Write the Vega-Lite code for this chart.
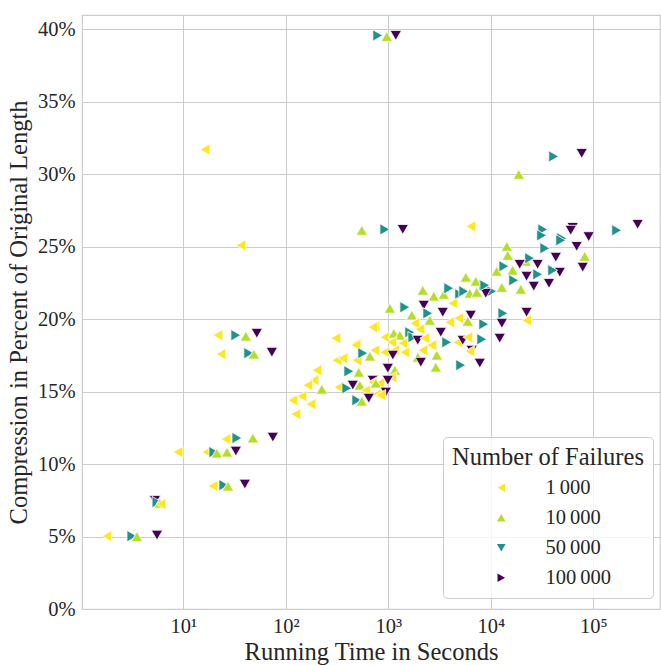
{
  "$schema": "https://vega.github.io/schema/vega-lite/v6.json",
  "width": 578,
  "height": 594,
  "autosize": {"type": "none"},
  "padding": {"left": 82, "top": 15, "right": 1, "bottom": 56},
  "background": "white",
  "config": {
    "font": "Liberation Serif",
    "view": {"stroke": "#cccccc", "strokeWidth": 1.2},
    "axis": {
      "labelFont": "Liberation Serif",
      "titleFont": "Liberation Serif",
      "labelFontSize": 20.5,
      "titleFontSize": 24.5,
      "titleFontWeight": "normal",
      "labelColor": "#262626",
      "titleColor": "#262626",
      "ticks": false,
      "domain": false,
      "gridColor": "#cccccc",
      "gridWidth": 1,
      "labelPadding": 7
    }
  },
  "data": {
    "values": [
      {"seconds": 1.8, "compression": 5.03, "failures": "1\u2009000"},
      {"seconds": 3.16, "compression": 5.03, "failures": "50\u2009000"},
      {"seconds": 3.54, "compression": 5.0, "failures": "10\u2009000"},
      {"seconds": 5.55, "compression": 5.1, "failures": "100\u2009000"},
      {"seconds": 5.3, "compression": 7.5, "failures": "100\u2009000"},
      {"seconds": 5.55, "compression": 7.38, "failures": "50\u2009000"},
      {"seconds": 5.9, "compression": 7.3, "failures": "10\u2009000"},
      {"seconds": 6.07, "compression": 7.24, "failures": "1\u2009000"},
      {"seconds": 19.5, "compression": 8.48, "failures": "1\u2009000"},
      {"seconds": 24.9, "compression": 8.55, "failures": "50\u2009000"},
      {"seconds": 27.3, "compression": 8.48, "failures": "10\u2009000"},
      {"seconds": 39.9, "compression": 8.62, "failures": "100\u2009000"},
      {"seconds": 8.88, "compression": 10.83, "failures": "1\u2009000"},
      {"seconds": 17.0, "compression": 10.83, "failures": "1\u2009000"},
      {"seconds": 19.9, "compression": 10.83, "failures": "50\u2009000"},
      {"seconds": 21.3, "compression": 10.76, "failures": "10\u2009000"},
      {"seconds": 26.7, "compression": 10.83, "failures": "10\u2009000"},
      {"seconds": 32.6, "compression": 10.9, "failures": "100\u2009000"},
      {"seconds": 26.1, "compression": 11.72, "failures": "1\u2009000"},
      {"seconds": 33.4, "compression": 11.8, "failures": "50\u2009000"},
      {"seconds": 47.8, "compression": 11.8, "failures": "10\u2009000"},
      {"seconds": 74.8, "compression": 11.86, "failures": "100\u2009000"},
      {"seconds": 23.3, "compression": 17.59, "failures": "1\u2009000"},
      {"seconds": 43.6, "compression": 17.66, "failures": "50\u2009000"},
      {"seconds": 48.9, "compression": 17.59, "failures": "10\u2009000"},
      {"seconds": 73.2, "compression": 17.72, "failures": "100\u2009000"},
      {"seconds": 21.8, "compression": 18.9, "failures": "1\u2009000"},
      {"seconds": 32.6, "compression": 18.9, "failures": "50\u2009000"},
      {"seconds": 40.8, "compression": 18.83, "failures": "10\u2009000"},
      {"seconds": 52.2, "compression": 19.03, "failures": "100\u2009000"},
      {"seconds": 16.3, "compression": 31.72, "failures": "1\u2009000"},
      {"seconds": 36.5, "compression": 25.1, "failures": "1\u2009000"},
      {"seconds": 789, "compression": 39.59, "failures": "50\u2009000"},
      {"seconds": 966, "compression": 39.52, "failures": "10\u2009000"},
      {"seconds": 1183, "compression": 39.59, "failures": "100\u2009000"},
      {"seconds": 552, "compression": 26.14, "failures": "10\u2009000"},
      {"seconds": 925, "compression": 26.2, "failures": "50\u2009000"},
      {"seconds": 1384, "compression": 26.2, "failures": "100\u2009000"},
      {"seconds": 6368, "compression": 26.41, "failures": "1\u2009000"},
      {"seconds": 18700, "compression": 30.0, "failures": "10\u2009000"},
      {"seconds": 41000, "compression": 31.24, "failures": "50\u2009000"},
      {"seconds": 76900, "compression": 31.45, "failures": "100\u2009000"},
      {"seconds": 62800, "compression": 26.34, "failures": "100\u2009000"},
      {"seconds": 60100, "compression": 26.14, "failures": "100\u2009000"},
      {"seconds": 168700, "compression": 26.14, "failures": "50\u2009000"},
      {"seconds": 270000, "compression": 26.55, "failures": "100\u2009000"},
      {"seconds": 89900, "compression": 25.7, "failures": "100\u2009000"},
      {"seconds": 68700, "compression": 25.03, "failures": "100\u2009000"},
      {"seconds": 82200, "compression": 24.34, "failures": "10\u2009000"},
      {"seconds": 78700, "compression": 23.59, "failures": "100\u2009000"},
      {"seconds": 49100, "compression": 25.59, "failures": "50\u2009000"},
      {"seconds": 47000, "compression": 23.24, "failures": "100\u2009000"},
      {"seconds": 32100, "compression": 26.2, "failures": "50\u2009000"},
      {"seconds": 31300, "compression": 25.79, "failures": "50\u2009000"},
      {"seconds": 48000, "compression": 25.45, "failures": "50\u2009000"},
      {"seconds": 33600, "compression": 24.9, "failures": "50\u2009000"},
      {"seconds": 14300, "compression": 25.03, "failures": "10\u2009000"},
      {"seconds": 14600, "compression": 24.41, "failures": "10\u2009000"},
      {"seconds": 43000, "compression": 24.28, "failures": "100\u2009000"},
      {"seconds": 40100, "compression": 23.38, "failures": "50\u2009000"},
      {"seconds": 11400, "compression": 23.31, "failures": "10\u2009000"},
      {"seconds": 16300, "compression": 23.38, "failures": "10\u2009000"},
      {"seconds": 13400, "compression": 23.66, "failures": "50\u2009000"},
      {"seconds": 21800, "compression": 24.0, "failures": "10\u2009000"},
      {"seconds": 23900, "compression": 24.21, "failures": "50\u2009000"},
      {"seconds": 19100, "compression": 23.79, "failures": "100\u2009000"},
      {"seconds": 22300, "compression": 22.97, "failures": "100\u2009000"},
      {"seconds": 28600, "compression": 23.79, "failures": "100\u2009000"},
      {"seconds": 28600, "compression": 23.1, "failures": "50\u2009000"},
      {"seconds": 16700, "compression": 22.69, "failures": "50\u2009000"},
      {"seconds": 26200, "compression": 22.28, "failures": "100\u2009000"},
      {"seconds": 19600, "compression": 22.07, "failures": "10\u2009000"},
      {"seconds": 12800, "compression": 22.2, "failures": "10\u2009000"},
      {"seconds": 8530, "compression": 22.34, "failures": "50\u2009000"},
      {"seconds": 10200, "compression": 21.93, "failures": "50\u2009000"},
      {"seconds": 8920, "compression": 21.79, "failures": "100\u2009000"},
      {"seconds": 36900, "compression": 22.48, "failures": "100\u2009000"},
      {"seconds": 13100, "compression": 20.41, "failures": "50\u2009000"},
      {"seconds": 22300, "compression": 20.48, "failures": "100\u2009000"},
      {"seconds": 22300, "compression": 19.93, "failures": "1\u2009000"},
      {"seconds": 8530, "compression": 19.66, "failures": "50\u2009000"},
      {"seconds": 12800, "compression": 19.72, "failures": "100\u2009000"},
      {"seconds": 8160, "compression": 18.62, "failures": "50\u2009000"},
      {"seconds": 12200, "compression": 18.69, "failures": "100\u2009000"},
      {"seconds": 6510, "compression": 17.86, "failures": "100\u2009000"},
      {"seconds": 7800, "compression": 16.97, "failures": "100\u2009000"},
      {"seconds": 2168, "compression": 22.0, "failures": "10\u2009000"},
      {"seconds": 2775, "compression": 21.59, "failures": "10\u2009000"},
      {"seconds": 3475, "compression": 21.72, "failures": "10\u2009000"},
      {"seconds": 3885, "compression": 22.14, "failures": "50\u2009000"},
      {"seconds": 4972, "compression": 21.72, "failures": "50\u2009000"},
      {"seconds": 5690, "compression": 22.9, "failures": "10\u2009000"},
      {"seconds": 7125, "compression": 22.62, "failures": "10\u2009000"},
      {"seconds": 5442, "compression": 21.93, "failures": "50\u2009000"},
      {"seconds": 6225, "compression": 21.79, "failures": "10\u2009000"},
      {"seconds": 7290, "compression": 21.86, "failures": "10\u2009000"},
      {"seconds": 4249, "compression": 21.1, "failures": "1\u2009000"},
      {"seconds": 1035, "compression": 20.76, "failures": "10\u2009000"},
      {"seconds": 1449, "compression": 20.83, "failures": "50\u2009000"},
      {"seconds": 2218, "compression": 20.97, "failures": "100\u2009000"},
      {"seconds": 1694, "compression": 20.28, "failures": "10\u2009000"},
      {"seconds": 2427, "compression": 20.41, "failures": "50\u2009000"},
      {"seconds": 3397, "compression": 20.48, "failures": "100\u2009000"},
      {"seconds": 6368, "compression": 20.28, "failures": "100\u2009000"},
      {"seconds": 5952, "compression": 19.86, "failures": "10\u2009000"},
      {"seconds": 1812, "compression": 19.72, "failures": "1\u2009000"},
      {"seconds": 2028, "compression": 19.31, "failures": "1\u2009000"},
      {"seconds": 2538, "compression": 19.93, "failures": "10\u2009000"},
      {"seconds": 3972, "compression": 19.79, "failures": "1\u2009000"},
      {"seconds": 4861, "compression": 20.07, "failures": "1\u2009000"},
      {"seconds": 738, "compression": 19.52, "failures": "1\u2009000"},
      {"seconds": 925, "compression": 18.76, "failures": "1\u2009000"},
      {"seconds": 1132, "compression": 19.03, "failures": "10\u2009000"},
      {"seconds": 1295, "compression": 18.9, "failures": "10\u2009000"},
      {"seconds": 1619, "compression": 19.1, "failures": "50\u2009000"},
      {"seconds": 1733, "compression": 18.76, "failures": "50\u2009000"},
      {"seconds": 1082, "compression": 18.41, "failures": "1\u2009000"},
      {"seconds": 1385, "compression": 18.34, "failures": "1\u2009000"},
      {"seconds": 1938, "compression": 18.55, "failures": "100\u2009000"},
      {"seconds": 2268, "compression": 18.69, "failures": "1\u2009000"},
      {"seconds": 2655, "compression": 18.21, "failures": "1\u2009000"},
      {"seconds": 3249, "compression": 19.1, "failures": "100\u2009000"},
      {"seconds": 3716, "compression": 18.41, "failures": "50\u2009000"},
      {"seconds": 4753, "compression": 18.41, "failures": "1\u2009000"},
      {"seconds": 5320, "compression": 18.55, "failures": "100\u2009000"},
      {"seconds": 5952, "compression": 18.76, "failures": "1\u2009000"},
      {"seconds": 6225, "compression": 17.79, "failures": "1\u2009000"},
      {"seconds": 2970, "compression": 17.52, "failures": "10\u2009000"},
      {"seconds": 738, "compression": 17.86, "failures": "1\u2009000"},
      {"seconds": 925, "compression": 17.72, "failures": "1\u2009000"},
      {"seconds": 1157, "compression": 17.86, "failures": "1\u2009000"},
      {"seconds": 1107, "compression": 17.52, "failures": "100\u2009000"},
      {"seconds": 1449, "compression": 17.72, "failures": "1\u2009000"},
      {"seconds": 2168, "compression": 17.86, "failures": "1\u2009000"},
      {"seconds": 1938, "compression": 17.38, "failures": "10\u2009000"},
      {"seconds": 2074, "compression": 17.03, "failures": "100\u2009000"},
      {"seconds": 2904, "compression": 16.69, "failures": "10\u2009000"},
      {"seconds": 5083, "compression": 16.83, "failures": "50\u2009000"},
      {"seconds": 989, "compression": 16.62, "failures": "100\u2009000"},
      {"seconds": 1157, "compression": 16.48, "failures": "10\u2009000"},
      {"seconds": 1082, "compression": 16.0, "failures": "1\u2009000"},
      {"seconds": 706, "compression": 15.79, "failures": "100\u2009000"},
      {"seconds": 826, "compression": 15.59, "failures": "1\u2009000"},
      {"seconds": 773, "compression": 14.83, "failures": "1\u2009000"},
      {"seconds": 493, "compression": 18.34, "failures": "1\u2009000"},
      {"seconds": 307.8, "compression": 18.69, "failures": "1\u2009000"},
      {"seconds": 482, "compression": 18.21, "failures": "1\u2009000"},
      {"seconds": 314.8, "compression": 17.17, "failures": "1\u2009000"},
      {"seconds": 360.5, "compression": 17.31, "failures": "1\u2009000"},
      {"seconds": 493, "compression": 17.17, "failures": "1\u2009000"},
      {"seconds": 412, "compression": 16.41, "failures": "50\u2009000"},
      {"seconds": 515, "compression": 16.34, "failures": "10\u2009000"},
      {"seconds": 564, "compression": 17.66, "failures": "50\u2009000"},
      {"seconds": 661, "compression": 17.45, "failures": "10\u2009000"},
      {"seconds": 201, "compression": 16.48, "failures": "1\u2009000"},
      {"seconds": 187.9, "compression": 15.79, "failures": "1\u2009000"},
      {"seconds": 164.1, "compression": 15.45, "failures": "1\u2009000"},
      {"seconds": 224.8, "compression": 15.17, "failures": "10\u2009000"},
      {"seconds": 329.6, "compression": 15.31, "failures": "1\u2009000"},
      {"seconds": 393.9, "compression": 15.24, "failures": "50\u2009000"},
      {"seconds": 450.8, "compression": 15.45, "failures": "100\u2009000"},
      {"seconds": 527, "compression": 15.45, "failures": "10\u2009000"},
      {"seconds": 604, "compression": 15.1, "failures": "1\u2009000"},
      {"seconds": 117.3, "compression": 14.41, "failures": "1\u2009000"},
      {"seconds": 143.5, "compression": 14.69, "failures": "1\u2009000"},
      {"seconds": 175.8, "compression": 14.14, "failures": "1\u2009000"},
      {"seconds": 125.3, "compression": 13.45, "failures": "1\u2009000"},
      {"seconds": 493, "compression": 14.41, "failures": "50\u2009000"},
      {"seconds": 552, "compression": 14.34, "failures": "10\u2009000"},
      {"seconds": 645, "compression": 14.55, "failures": "100\u2009000"},
      {"seconds": 706, "compression": 15.66, "failures": "1\u2009000"},
      {"seconds": 755, "compression": 15.59, "failures": "10\u2009000"},
      {"seconds": 946, "compression": 14.97, "failures": "100\u2009000"},
      {"seconds": 845, "compression": 14.76, "failures": "1\u2009000"},
      {"seconds": 989, "compression": 15.79, "failures": "100\u2009000"},
      {"seconds": 8730, "compression": 22.34, "failures": "50\u2009000"},
      {"seconds": 706, "compression": 19.45, "failures": "1\u2009000"}
    ]
  },
  "layer": [
    {
      "mark": {"type": "point", "filled": true, "opacity": 1, "size": 130, "stroke": "white", "strokeWidth": 0.8},
      "encoding": {
        "x": {
          "field": "seconds", "type": "quantitative",
          "scale": {"type": "log", "domain": [1.03, 446000], "nice": false},
          "axis": {
            "values": [10, 100, 1000, 10000, 100000],
            "labelExpr": "'10' + (datum.value == 10 ? '¹' : datum.value == 100 ? '²' : datum.value == 1000 ? '³' : datum.value == 10000 ? '⁴' : '⁵')",
            "titlePadding": 4
          },
          "title": "Running Time in Seconds"
        },
        "y": {
          "field": "compression", "type": "quantitative",
          "scale": {"domain": [0, 41], "nice": false},
          "axis": {
            "values": [0, 5, 10, 15, 20, 25, 30, 35, 40],
            "labelExpr": "datum.value + '%'",
            "titlePadding": 6
          },
          "title": "Compression in Percent of Original Length"
        },
        "color": {
          "field": "failures", "type": "nominal",
          "scale": {"domain": ["1\u2009000", "10\u2009000", "50\u2009000", "100\u2009000"], "range": ["#fde725", "#b5de2b", "#21918c", "#440154"]},
          "legend": null
        },
        "shape": {
          "field": "failures", "type": "nominal",
          "scale": {"domain": ["1\u2009000", "10\u2009000", "50\u2009000", "100\u2009000"], "range": ["triangle-left", "triangle-up", "triangle-right", "triangle-down"]},
          "legend": null
        }
      }
    },
    {
      "mark": {"type": "point", "filled": true, "opacity": 0, "size": 80},
      "encoding": {
        "color": {
          "field": "failures", "type": "nominal",
          "scale": {"domain": ["1\u2009000", "10\u2009000", "50\u2009000", "100\u2009000"], "range": ["#fde725", "#b5de2b", "#21918c", "#440154"]},
          "legend": {
            "title": "Number of Failures", "orient": "none", "legendX": 361, "legendY": 422,
            "titleFontSize": 24.5, "titleFontWeight": "normal", "titleColor": "#262626", "titleFont": "Liberation Serif",
            "titleAnchor": "middle", "titlePadding": 7, "titleLimit": 400,
            "labelFontSize": 20.5, "labelColor": "#262626", "labelFont": "Liberation Serif",
            "fillColor": "rgba(255,255,255,0.8)", "strokeColor": "#cccccc", "cornerRadius": 4,
            "padding": 9, "rowPadding": 9, "symbolSize": 75, "symbolOffset": 7, "labelOffset": 34,
            "symbolOpacity": 1, "symbolStrokeWidth": 0
          }
        },
        "shape": {
          "field": "failures", "type": "nominal",
          "scale": {"domain": ["1\u2009000", "10\u2009000", "50\u2009000", "100\u2009000"], "range": ["triangle-left", "triangle-up", "triangle-down", "triangle-right"]},
          "legend": {
            "title": "Number of Failures", "orient": "none", "legendX": 361, "legendY": 422,
            "titleFontSize": 24.5, "titleFontWeight": "normal", "titleColor": "#262626", "titleFont": "Liberation Serif",
            "titleAnchor": "middle", "titlePadding": 7, "titleLimit": 400,
            "labelFontSize": 20.5, "labelColor": "#262626", "labelFont": "Liberation Serif",
            "fillColor": "rgba(255,255,255,0.8)", "strokeColor": "#cccccc", "cornerRadius": 4,
            "padding": 9, "rowPadding": 9, "symbolSize": 75, "symbolOffset": 7, "labelOffset": 34,
            "symbolOpacity": 1, "symbolStrokeWidth": 0
          }
        }
      }
    }
  ],
  "resolve": {"scale": {"color": "independent", "shape": "independent"}}
}
